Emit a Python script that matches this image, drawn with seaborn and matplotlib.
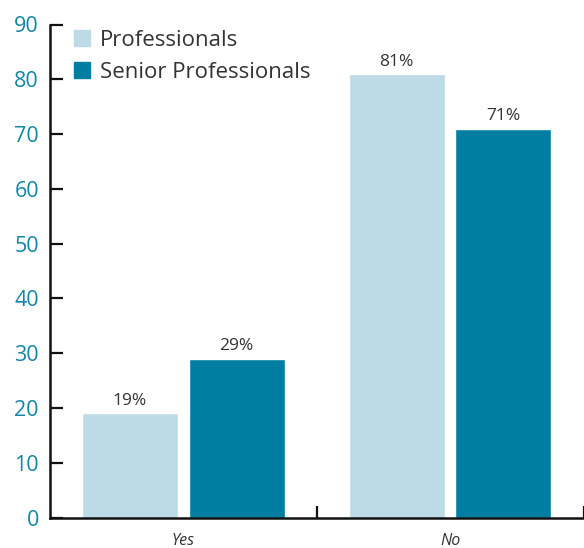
import matplotlib
matplotlib.use("Agg")
import matplotlib.pyplot as plt
import seaborn as sns
import pandas as pd
from matplotlib.ticker import FixedLocator

# Survey answers and shares (%)
answers = ["Yes", "No"]
groups = ["Professionals", "Senior Professionals"]
professionals = [19, 81]
senior_professionals = [29, 71]
y_ticks = [0, 10, 20, 30, 40, 50, 60, 70, 80, 90]

light_blue = "#BCDBE7"
teal = "#007EA1"
tick_teal = "#1386A6"
text_dark = "#333333"

df = pd.DataFrame({
    "answer": answers * 2,
    "group": [groups[0]] * 2 + [groups[1]] * 2,
    "pct": professionals + senior_professionals,
})

sns.set_theme(style="white")
plt.rcParams["font.family"] = ["Open Sans", "DejaVu Sans"]

fig = plt.figure(figsize=(5.84, 5.48), dpi=100)
W, H = 584, 548
ax = fig.add_axes([50 / W, (H - 517.5) / H, 533.5 / W, 493 / H])

sns.barplot(data=df, x="answer", y="pct", hue="group", order=answers,
            hue_order=groups, palette=[light_blue, teal], saturation=1,
            width=0.8, gap=0.1, ax=ax, legend=False)

for cont in ax.containers:
    ax.bar_label(cont, fmt="%d%%", padding=3, fontsize=12.5, color=text_dark)

ax.set_xlim(-0.5, 1.5)
ax.set_ylim(0, 90)
ax.set_yticks(y_ticks)
ax.set_xlabel("")
ax.set_ylabel("")

for side in ["top", "right"]:
    ax.spines[side].set_visible(False)
for side in ["left", "bottom"]:
    ax.spines[side].set_color("#111111")
    ax.spines[side].set_linewidth(1.8)

ax.tick_params(axis="y", direction="in", length=9, width=1.6, color="#111111",
               labelsize=15.5, labelcolor=tick_teal, pad=8, left=True)
ax.tick_params(axis="x", which="major", length=0, pad=11.5, labelsize=11.5,
               labelcolor=text_dark, bottom=True)
for lab in ax.get_xticklabels():
    lab.set_fontstyle("italic")
ax.xaxis.set_minor_locator(FixedLocator([0.5, 1.5]))
ax.tick_params(axis="x", which="minor", direction="in", length=9, width=1.6,
               color="#111111", bottom=True)

handles = [plt.Rectangle((0, 0), 1, 1, color=c) for c in [light_blue, teal]]
ax.legend(handles, groups, loc="upper left", frameon=False,
          bbox_to_anchor=(24 / 533.5, 1 - 5 / 493), borderaxespad=0, borderpad=0,
          fontsize=16, handlelength=0.72, handleheight=0.72, handletextpad=0.45,
          labelspacing=0.5, labelcolor=text_dark)

fig.savefig("out.png", dpi=100)
